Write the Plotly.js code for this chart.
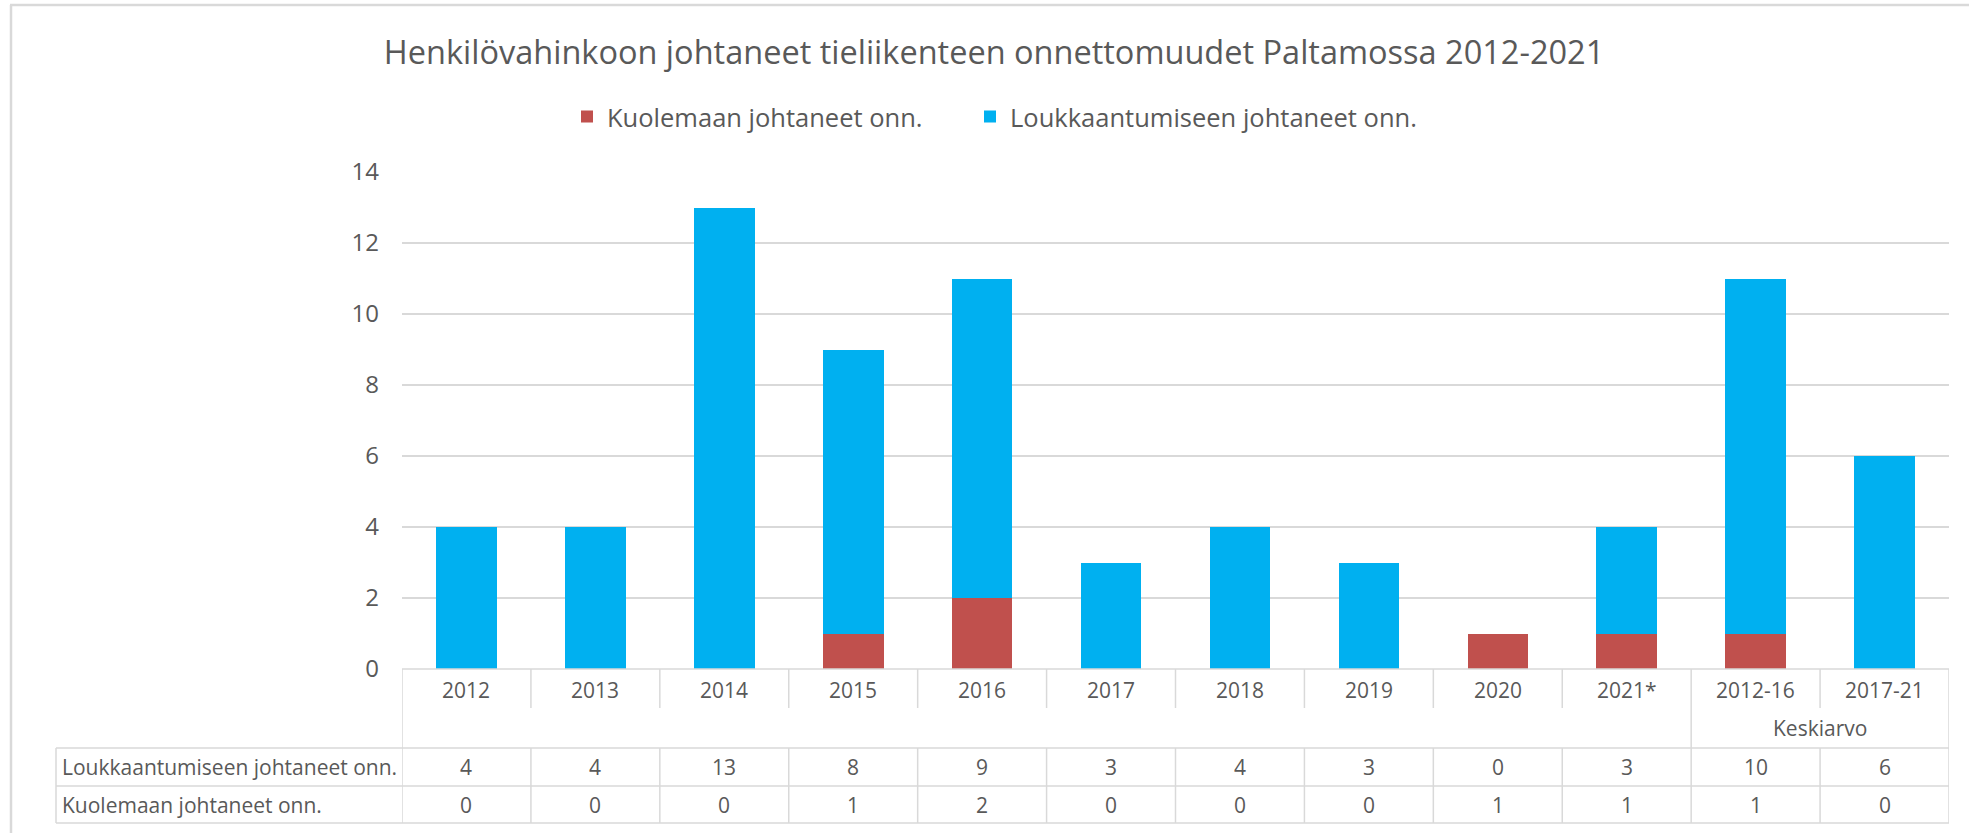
<!DOCTYPE html>
<html>
<head>
<meta charset="utf-8">
<script src="https://cdn.plot.ly/plotly-3.0.1.min.js"></script>
<style>html,body{margin:0;padding:0;background:#fff;}#chart{width:1969px;height:833px;}</style>
</head>
<body>
<div id="chart"></div>
<script>
const categories = ['2012','2013','2014','2015','2016','2017','2018','2019','2020','2021*','2012-16','2017-21'];
const injuryValues = [4,4,13,8,9,3,4,3,0,3,10,6];
const deathValues = [0,0,0,1,2,0,0,0,1,1,1,0];
const yTickValues = [0,2,4,6,8,10,12,14];
const deathName = 'Kuolemaan johtaneet onn.';
const injuryName = 'Loukkaantumiseen johtaneet onn.';
const titleText = 'Henkilövahinkoon johtaneet tieliikenteen onnettomuudet Paltamossa 2012-2021';
const groupLabel = 'Keskiarvo';

const FONT = 'Open Sans, Noto Sans, sans-serif';
const TXT = '#595959';
const GRID = '#d9d9d9';

// pixel helpers (plot area: x 402..1949, y 172..669)
const L = 402, R = 1949, T = 172, B = 669;
const py = p => (B - p) / (B - T);
const px = p => (p - L) / (R - L);

const traces = [
  {type:'bar', name: deathName, x: categories, y: deathValues, marker:{color:'#C0504D'}, legendwidth: 358},
  {type:'bar', name: injuryName, x: categories, y: injuryValues, marker:{color:'#00B0F0'}, legendwidth: 460}
];

const shapes = [];
const annotations = [];
const n = categories.length;
const TL = 56; // table left edge
const ySepEnd = py(708), yRow1 = py(748), yRow2 = py(786), yRow3 = py(823);
const lineStyle = {color: GRID, width: 1.5};

// horizontal lines of the table
shapes.push({type:'line', xref:'paper', yref:'paper', x0:0, x1:1, y0:0, y1:0, line: lineStyle});
[yRow1, yRow2, yRow3].forEach(y => shapes.push({type:'line', xref:'paper', yref:'paper', x0:px(TL), x1:1, y0:y, y1:y, line: lineStyle}));
// vertical lines
for (let k = 0; k <= n; k++) {
  const xv = k - 0.5;
  const full = (k === 0 || k === n || k === 10);
  shapes.push({type:'line', xref:'x', yref:'paper', x0:xv, x1:xv, y0:0, y1: full ? yRow1 : ySepEnd, line: lineStyle});
  shapes.push({type:'line', xref:'x', yref:'paper', x0:xv, x1:xv, y0:yRow1, y1:yRow3, line: lineStyle});
}
shapes.push({type:'line', xref:'paper', yref:'paper', x0:px(TL), x1:px(TL), y0:yRow1, y1:yRow3, line: lineStyle});
// chart border (top & left)
shapes.push({type:'line', xref:'paper', yref:'paper', x0:px(10), x1:px(1969), y0:py(5), y1:py(5), line:{color:GRID, width:2.5}});
shapes.push({type:'line', xref:'paper', yref:'paper', x0:px(11), x1:px(11), y0:py(5), y1:py(833), line:{color:GRID, width:2.5}});

const tf = {family: FONT, size: 21, color: TXT};
categories.forEach((c, i) => {
  annotations.push({xref:'x', yref:'paper', x:i, y:py(690), text:c, showarrow:false, font:tf, xanchor:'center', yanchor:'middle'});
  annotations.push({xref:'x', yref:'paper', x:i, y:py(767), text:String(injuryValues[i]), showarrow:false, font:tf, xanchor:'center', yanchor:'middle'});
  annotations.push({xref:'x', yref:'paper', x:i, y:py(805), text:String(deathValues[i]), showarrow:false, font:tf, xanchor:'center', yanchor:'middle'});
});
annotations.push({xref:'x', yref:'paper', x:10.5, y:py(728), text:groupLabel, showarrow:false, font:tf, xanchor:'center', yanchor:'middle'});
annotations.push({xref:'paper', yref:'paper', x:px(60), y:py(767), text:injuryName, showarrow:false, font:tf, xanchor:'left', yanchor:'middle'});
annotations.push({xref:'paper', yref:'paper', x:px(60), y:py(805), text:deathName, showarrow:false, font:tf, xanchor:'left', yanchor:'middle'});

const layout = {
  width: 1969, height: 833,
  margin: {l: L, r: 1969 - R, t: T, b: 833 - B},
  paper_bgcolor: '#fff', plot_bgcolor: '#fff',
  font: {family: FONT, color: TXT},
  title: {text: titleText, font: {family: FONT, size: 32.5, color: TXT}, x: 994/1969, xanchor: 'center', xref: 'container', y: 1 - 53/833, yanchor: 'middle', yref: 'container'},
  barmode: 'stack',
  bargap: 0.53,
  showlegend: true,
  legend: {orientation: 'h', x: px(567), xanchor: 'left', y: py(117), yanchor: 'middle', font: {family: FONT, size: 25.5, color: TXT}, traceorder: 'normal'},
  xaxis: {type: 'category', showticklabels: false, ticks: '', showgrid: false, zeroline: false, showline: false, range: [-0.5, n - 0.5], fixedrange: true},
  yaxis: {range: [0, 14], tickvals: yTickValues, ticktext: yTickValues.map(String), showgrid: true, gridcolor: GRID, gridwidth: 1.5, zeroline: false, showline: false, ticks: '', ticklabelstandoff: 22, tickfont: {family: FONT, size: 24, color: TXT}},
  shapes: shapes,
  annotations: annotations
};

Plotly.newPlot('chart', traces, layout, {displayModeBar: false, staticPlot: true});
</script>
</body>
</html>
